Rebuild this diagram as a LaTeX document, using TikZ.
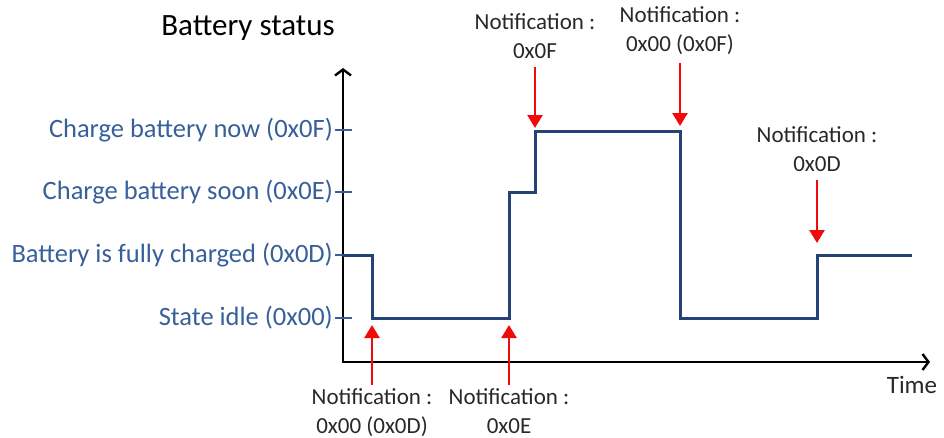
\documentclass[tikz,border=0pt]{standalone}
\usepackage{fontspec}
\setmainfont{Carlito}
\usetikzlibrary{arrows.meta, positioning}
\definecolor{levelblue}{RGB}{55, 96, 155}
\definecolor{signalblue}{RGB}{36, 66, 118}
\definecolor{notered}{RGB}{240, 10, 10}
\definecolor{notegray}{RGB}{40, 40, 40}

\begin{document}
\begin{tikzpicture}[x=1pt, y=-1pt,
    level/.style={text=levelblue, font=\fontsize{26.5}{29}\selectfont, anchor=east, inner sep=2pt},
    tick/.style={draw=levelblue, line width=2pt},
    note/.style={align=center, text=notegray, font=\fontsize{23}{29}\selectfont, inner xsep=0pt, inner ysep=3pt},
    axis/.style={line width=2.4pt, line join=miter, {Straight Barb[length=6pt, width=16pt, line width=2.4pt]}-{Straight Barb[length=6pt, width=16pt, line width=2.4pt]}},
    signal/.style={draw=signalblue, line width=3pt, line join=miter},
    notify/.style={notered, line width=2.6pt, -{Triangle[length=13pt, width=15pt]}}]
  \useasboundingbox (0,0) rectangle (944,437);

  % axes
  \coordinate (origin) at (343,362);
  \coordinate (ytip) at (343,68);
  \coordinate (xtip) at (930,362);
  \draw[axis] (ytip) -- (origin) -- (xtip);
  \node[font=\fontsize{31}{34}\selectfont, inner sep=0pt] (title) at (248,28) {Battery status};
  \node[note, font=\fontsize{25}{28}\selectfont, inner sep=0pt] (time) at (912,385) {Time};

  % status levels
  \foreach \y/\id/\txt in {130/now/Charge battery now (0x0F),
                           192/soon/Charge battery soon (0x0E),
                           255/full/Battery is fully charged (0x0D),
                           318/idle/State idle (0x00)} {
    \node[level] (\id) at (335,\y) {\txt};
    \draw[tick] (\id.east) -- ++(17,0);
  }

  \draw[signal] (343,255) -| (372,318) -| (509,192) -| (535,131) -| (680,318) -| (817,255) -- (912,255);

  % notifications
  \coordinate (t1) at (372,325);
  \coordinate (t2) at (509,325);
  \coordinate (t3) at (535,128);
  \coordinate (t4) at (680,126);
  \coordinate (t5) at (817,243);

  \node[note, anchor=north] (n1) at (372,385) {Notification :\\0x00 (0x0D)};
  \node[note, anchor=north] (n2) at (509,385) {Notification :\\0x0E};
  \node[note, anchor=south] (n3) at (535,62) {Notification :\\0x0F};
  \node[note, anchor=south] (n4) at (680,58) {Notification :\\0x00 (0x0F)};
  \node[note, anchor=south] (n5) at (817,175) {Notification :\\0x0D};

  \draw[notify] (n1.north) -- (t1);
  \draw[notify] (n2.north) -- (t2);
  \draw[notify] (n3.south) ++(0,5) -- (t3);
  \draw[notify] (n4.south) ++(0,5) -- (t4);
  \draw[notify] (n5.south) ++(0,5) -- (t5);
\end{tikzpicture}
\end{document}
